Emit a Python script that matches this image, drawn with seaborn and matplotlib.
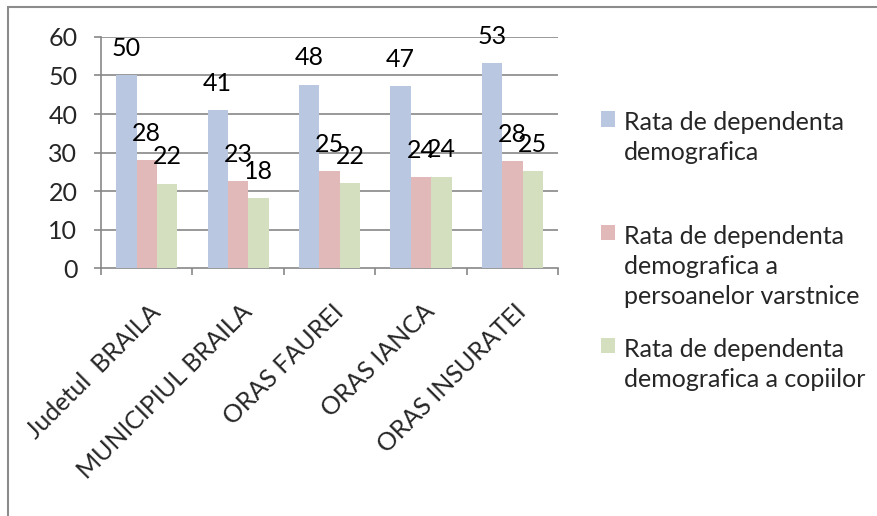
import numpy as np
import pandas as pd
import matplotlib.pyplot as plt
import matplotlib.transforms as mtransforms
import seaborn as sns
from matplotlib.patches import Rectangle

# Chart data
categories = ["Judetul  BRAILA", "MUNICIPIUL BRAILA", "ORAS FAUREI", "ORAS IANCA", "ORAS INSURATEI"]
series = [
    "Rata de dependenta\ndemografica",
    "Rata de dependenta\ndemografica a\npersoanelor varstnice",
    "Rata de dependenta\ndemografica a copiilor",
]
rata_totala = [50.0, 41.0, 47.6, 47.3, 53.2]
rata_varstnici = [28.0, 22.6, 25.2, 23.6, 27.8]
rata_copii = [21.9, 18.1, 22.1, 23.7, 25.1]
y_ticks = [0, 10, 20, 30, 40, 50, 60]

colors = ["#B9C7E0", "#E2B9B9", "#D3DFBE"]
grid_color = "#878787"

# Long format table for seaborn
df = pd.DataFrame({
    "categorie": categories * 3,
    "serie": [series[0]] * 5 + [series[1]] * 5 + [series[2]] * 5,
    "valoare": rata_totala + rata_varstnici + rata_copii,
})

sns.set_style("white")
plt.rcParams["font.family"] = ["Lato", "DejaVu Sans"]
fs = 18

fig = plt.figure(figsize=(8.77, 5.16), dpi=100)
ax = fig.add_axes([0.1152, 0.4806, 0.5211, 0.4477])

sns.barplot(data=df, x="categorie", y="valoare", hue="serie", palette=colors,
            width=0.67, gap=0, saturation=1, linewidth=0, edgecolor="none",
            ax=ax, zorder=3)

# Data labels above bars
for cont in ax.containers:
    ax.bar_label(cont, fmt="%.0f", padding=11, fontsize=fs, color="black")

ax.set_ylim(0, 60)
ax.set_xlim(-0.5, 4.5)
ax.set_yticks(y_ticks)
ax.set_xlabel("")
ax.set_ylabel("")

# Horizontal gridlines
for y in y_ticks[1:]:
    ax.axhline(y, color=grid_color, lw=1.2, zorder=1)

for side in ["top", "right"]:
    ax.spines[side].set_visible(False)
for side in ["left", "bottom"]:
    ax.spines[side].set_color(grid_color)
    ax.spines[side].set_linewidth(1.2)

ax.tick_params(axis="y", length=5, width=1.2, color=grid_color, pad=12, labelsize=fs, left=True)
ax.set_xticks(np.arange(-0.5, 5, 1), minor=True)
ax.tick_params(axis="x", which="minor", length=5, width=1.2, color=grid_color, bottom=True)
ax.tick_params(axis="x", which="major", length=0, pad=23, labelsize=fs)
shift = mtransforms.ScaledTranslation(2 / 100, 0, fig.dpi_scale_trans)
for lbl in ax.get_xticklabels():
    lbl.set_rotation(45)
    lbl.set_ha("right")
    lbl.set_rotation_mode("anchor")
    lbl.set_transform(lbl.get_transform() + shift)

# Legend on the right, markers next to the first line of each entry
handles, labels = ax.get_legend_handles_labels()
labels[0] = labels[0] + "\n"
leg = ax.legend(handles, labels, loc="upper left", bbox_to_anchor=(0.685, 0.784),
                bbox_transform=fig.transFigure, frameon=False, fontsize=fs,
                handlelength=0.58, handleheight=0.58, handletextpad=0.35,
                labelspacing=1.2, borderpad=0, borderaxespad=0)
for txt in leg.get_texts():
    txt.set_linespacing(1.37)
for col in leg._legend_handle_box.get_children():
    for item in col.get_children():
        item.align = "top"

# Outer chart border
fig.patches.append(Rectangle((8 / 877, -0.1), 1.2, 1.0855, transform=fig.transFigure,
                             fill=False, edgecolor="#8C8C8C", lw=1.5))

plt.savefig("out.png", dpi=100)
